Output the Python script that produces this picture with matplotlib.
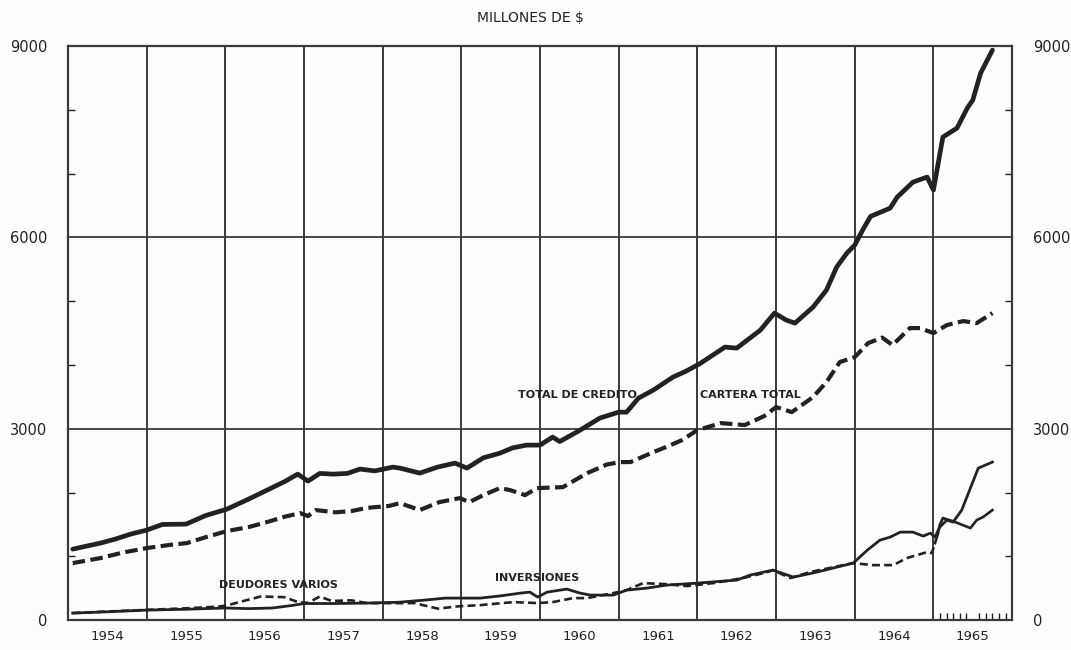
import matplotlib
matplotlib.use('Agg')
import matplotlib.pyplot as plt

# datos (millones de $), fechas en fraccion de año
total_t = [1954.06, 1954.41, 1954.6, 1954.8, 1955.0, 1955.2, 1955.5, 1955.75, 1956.02, 1956.3,
           1956.53, 1956.75, 1956.92, 1957.05, 1957.2, 1957.37, 1957.55, 1957.71, 1957.9, 1958.13,
           1958.22, 1958.47, 1958.7, 1958.92, 1959.07, 1959.28, 1959.49, 1959.65, 1959.83, 1960.0,
           1960.16, 1960.25, 1960.51, 1960.76, 1961.0, 1961.1, 1961.25, 1961.44, 1961.69, 1961.85,
           1962.03, 1962.35, 1962.5, 1962.8, 1962.98, 1963.13, 1963.24, 1963.47, 1963.64, 1963.77,
           1963.9, 1964.0, 1964.1, 1964.2, 1964.45, 1964.54, 1964.74, 1964.92, 1965.0, 1965.12,
           1965.3, 1965.43, 1965.5, 1965.6, 1965.75]
total_v = [1113, 1207, 1270, 1350, 1411, 1500, 1505, 1640, 1740, 1900,
           2038, 2170, 2289, 2180, 2300, 2289, 2300, 2368, 2340, 2399,
           2383, 2305, 2400, 2462, 2383, 2545, 2618, 2700, 2744, 2744,
           2870, 2800, 2979, 3168, 3261, 3261, 3480, 3607, 3811, 3900,
           4020, 4281, 4265, 4547, 4814, 4704, 4657, 4908, 5174, 5535,
           5755, 5880, 6115, 6330, 6460, 6633, 6868, 6947, 6743, 7574,
           7715, 8028, 8154, 8577, 8938]

cartera_t = [1954.06, 1954.41, 1954.7, 1955.0, 1955.3, 1955.51, 1955.75, 1956.02, 1956.3, 1956.53,
             1956.75, 1956.95, 1957.05, 1957.15, 1957.4, 1957.6, 1957.8, 1958.08, 1958.22, 1958.47,
             1958.72, 1958.98, 1959.1, 1959.28, 1959.49, 1959.62, 1959.81, 1959.96, 1960.29, 1960.6,
             1960.85, 1961.02, 1961.15, 1961.44, 1961.6, 1961.8, 1962.0, 1962.3, 1962.6, 1962.85,
             1963.0, 1963.2, 1963.47, 1963.64, 1963.81, 1964.0, 1964.17, 1964.35, 1964.48, 1964.7,
             1964.83, 1965.0, 1965.17, 1965.38, 1965.55, 1965.75]
cartera_v = [894, 972, 1060, 1129, 1180, 1207, 1300, 1396, 1460, 1537,
             1620, 1678, 1631, 1725, 1690, 1709, 1760, 1790, 1835, 1725,
             1850, 1913, 1850, 1960, 2070, 2038, 1960, 2070, 2085, 2305,
             2440, 2478, 2478, 2634, 2713, 2820, 2979, 3089, 3058, 3200,
             3340, 3261, 3497, 3732, 4046, 4124, 4344, 4430, 4312, 4579,
             4579, 4500, 4626, 4689, 4657, 4814]

deudores_t = [1954.06, 1954.5, 1955.0, 1955.5, 1955.9, 1956.02, 1956.2, 1956.45, 1956.75, 1956.93,
              1957.05, 1957.2, 1957.35, 1957.6, 1957.8, 1958.1, 1958.4, 1958.7, 1958.95, 1959.24,
              1959.66, 1959.97, 1960.16, 1960.42, 1960.6, 1960.93, 1961.1, 1961.31, 1961.6, 1961.87,
              1962.2, 1962.58, 1962.89, 1962.96, 1963.18, 1963.43, 1963.98, 1964.23, 1964.49, 1964.66,
              1964.92, 1964.98, 1965.02, 1965.06, 1965.08, 1965.12, 1965.25, 1965.47, 1965.55, 1965.63,
              1965.75]
deudores_v = [110, 135, 160, 185, 210, 230, 290, 370, 360, 280,
              270, 370, 300, 310, 267, 265, 267, 180, 215, 235,
              282, 267, 282, 345, 345, 423, 470, 580, 564, 533,
              580, 659, 753, 784, 659, 753, 894, 862, 862, 972,
              1066, 1050, 1207, 1364, 1490, 1600, 1550, 1443, 1568, 1615,
              1725]

inversiones_t = [1954.06, 1954.5, 1955.0, 1955.5, 1956.0, 1956.3, 1956.6, 1956.85, 1957.0, 1957.4,
                 1957.8, 1958.2, 1958.5, 1958.8, 1959.24, 1959.5, 1959.75, 1959.87, 1959.97, 1960.09,
                 1960.34, 1960.51, 1960.64, 1960.93, 1961.1, 1961.36, 1961.61, 1962.0, 1962.5, 1962.67,
                 1962.96, 1963.22, 1963.52, 1963.72, 1963.98, 1964.16, 1964.32, 1964.45, 1964.58, 1964.74,
                 1964.87, 1964.96, 1965.02, 1965.08, 1965.17, 1965.25, 1965.36, 1965.47, 1965.57, 1965.75]
inversiones_v = [110, 130, 157, 170, 190, 180, 190, 230, 260, 260,
                 267, 280, 310, 345, 345, 380, 423, 439, 361, 439,
                 486, 423, 392, 392, 470, 502, 549, 580, 627, 706,
                 784, 674, 753, 815, 894, 1097, 1254, 1301, 1380, 1380,
                 1317, 1364, 1301, 1458, 1568, 1537, 1725, 2070, 2383, 2478]

years = list(range(1954, 1966))
yticks = [0, 3000, 6000, 9000]
ytick_labels = ['0', '3000', '6000', '9000']

ink = '#222222'
grid_c = '#3a3a3a'

fig = plt.figure(figsize=(10.71, 6.5), dpi=100)
fig.patch.set_facecolor('#fdfdfd')
ax = fig.add_axes([0.0635, 0.046, 0.8815, 0.883])
ax.set_facecolor('#fdfdfd')

# reticula: limites de año y 3000 / 6000
for yr in years[1:]:
    ax.axvline(yr, color=grid_c, lw=1.4, zorder=1)
for v in [3000, 6000]:
    ax.axhline(v, color=grid_c, lw=1.3, zorder=1)

ax.plot(total_t, total_v, color=ink, lw=3.4, solid_capstyle='round', zorder=3)
ax.plot(cartera_t, cartera_v, color=ink, lw=3.0, dashes=(3, 1.3), zorder=3)
ax.plot(inversiones_t, inversiones_v, color=ink, lw=2.0, zorder=3)
k = deudores_t.index(1965.02)
ax.plot(deudores_t[:k + 1], deudores_v[:k + 1], color=ink, lw=1.9, dashes=(3, 1.6), zorder=3)
ax.plot(deudores_t[k:], deudores_v[k:], color=ink, lw=1.9, zorder=3)

# rotulos de las series
lab = dict(color=ink, fontsize=8, fontweight='bold', ha='center', va='center', zorder=4)
ax.text(1960.47, 3530, 'TOTAL DE CREDITO', **lab)
ax.text(1962.67, 3530, 'CARTERA TOTAL', **lab)
ax.text(1956.67, 550, 'DEUDORES VARIOS', **lab)
ax.text(1959.96, 660, 'INVERSIONES', **lab)

ax.set_xlim(1954, 1966)
ax.set_ylim(0, 9000)

ax.set_xticks([y + 0.5 for y in years])
ax.set_xticklabels([str(y) for y in years], fontsize=9.5, color=ink)
ax.set_xticks([1965 + m / 12 for m in range(1, 12)], minor=True)
ax.tick_params(axis='x', which='major', length=0, pad=7)
ax.tick_params(axis='x', which='minor', direction='in', length=5, width=1, color=ink)

ax.set_yticks(yticks)
ax.set_yticklabels(ytick_labels, fontsize=10.5, color=ink)
ax.set_yticks([1000, 2000, 4000, 5000, 7000, 8000], minor=True)
ax.tick_params(axis='y', which='major', length=0, left=True, right=True,
               labelleft=True, labelright=True, pad=15)
ax.tick_params(axis='y', which='minor', direction='in', length=5, width=1,
               left=True, right=True, color=ink)

for s in ax.spines.values():
    s.set_color(grid_c)
    s.set_linewidth(1.6)

fig.text(0.495, 0.972, 'MILLONES DE $', fontsize=10, color=ink, ha='center', va='center')

fig.savefig('out.png', dpi=100, facecolor=fig.get_facecolor())
